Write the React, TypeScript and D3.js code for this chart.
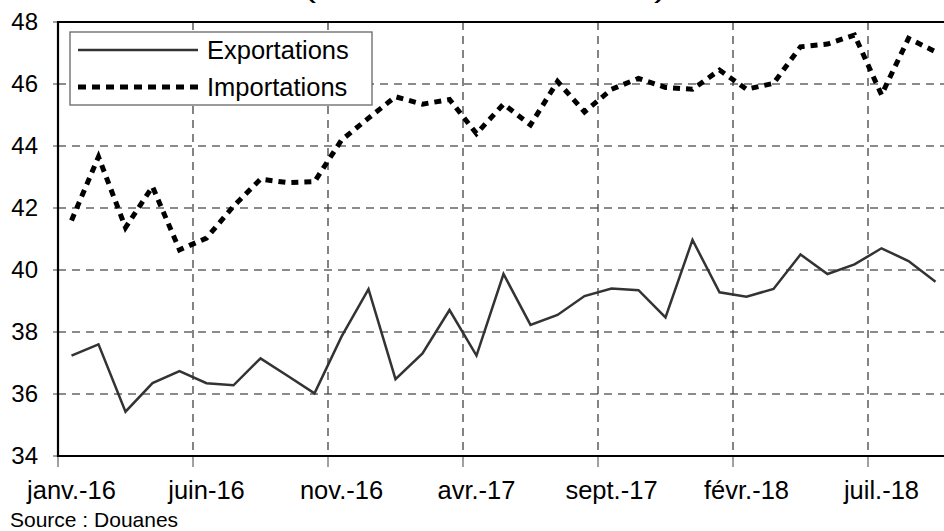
import * as d3 from 'd3';
import React, { useEffect, useRef } from 'react';

// mois de janv.-16 a sept.-18
const moisNoms = ['janv.', 'févr.', 'mars', 'avr.', 'mai', 'juin', 'juil.', 'août', 'sept.', 'oct.', 'nov.', 'déc.'];
const mois: string[] = [];
for (let a = 16; a <= 18; a++) {
    for (let m = 0; m < 12; m++) {
        if (a === 18 && m > 8) break;
        mois.push(moisNoms[m] + '-' + a);
    }
}

const exportations = [
    37.24, 37.6, 35.43, 36.35, 36.74, 36.35, 36.28, 37.15, 36.59, 36.02,
    37.85, 39.38, 36.48, 37.31, 38.71, 37.24, 39.87, 38.23, 38.55, 39.16,
    39.4, 39.35, 38.47, 40.97, 39.28, 39.14, 39.39, 40.5, 39.87, 40.18,
    40.7, 40.29, 39.62
];

const importations = [
    41.6, 43.65, 41.37, 42.69, 40.65, 41.03, 42.06, 42.93, 42.82, 42.85,
    44.19, 44.9, 45.59, 45.35, 45.5, 44.4, 45.35, 44.68, 46.08, 45.1,
    45.83, 46.18, 45.89, 45.83, 46.45, 45.83, 46.02, 47.2, 47.29, 47.58,
    45.65, 47.47, 47.04
];

const yTicks = [34, 36, 38, 40, 42, 44, 46, 48];
const xLabels = ['janv.-16', 'juin-16', 'nov.-16', 'avr.-17', 'sept.-17', 'févr.-18', 'juil.-18'];

const titre = "(en milliards d'euros)";
const source = 'Source : Douanes';

function App() {
    const ref = useRef<SVGSVGElement>(null);

    useEffect(() => {
        const svg = d3.select(ref.current);
        svg.selectAll('*').remove();

        const font = 'Arial, "Liberation Sans", sans-serif';
        const left = 58, top = 22, bottom = 456;
        const bw = 27;

        const x = d3.scaleBand<string>()
            .domain(mois)
            .range([left, left + mois.length * bw])
            .paddingInner(0)
            .paddingOuter(0);
        const y = d3.scaleLinear().domain([34, 48]).range([bottom, top]);
        const cx = (d: string) => (x(d) as number) + x.bandwidth() / 2;

        const g = svg.append('g');

        // titre (coupe en haut, seules les parentheses depassent)
        g.append('text')
            .attr('x', 303)
            .attr('y', -3)
            .attr('textLength', 364)
            .attr('lengthAdjust', 'spacingAndGlyphs')
            .style('font-family', font)
            .style('font-size', '28px')
            .text(titre);

        // grille horizontale
        g.selectAll('.hgrid')
            .data(yTicks.filter(t => t !== 34 && t !== 48))
            .enter()
            .append('line')
            .attr('x1', left)
            .attr('x2', 944)
            .attr('y1', d => y(d))
            .attr('y2', d => y(d))
            .attr('stroke', '#666')
            .attr('stroke-width', 1.3)
            .attr('stroke-dasharray', '8,6');

        // grille verticale, aux limites des categories
        g.selectAll('.vgrid')
            .data(xLabels.slice(1))
            .enter()
            .append('line')
            .attr('x1', d => x(d) as number)
            .attr('x2', d => x(d) as number)
            .attr('y1', top)
            .attr('y2', bottom)
            .attr('stroke', '#333')
            .attr('stroke-width', 1.2)
            .attr('stroke-dasharray', '8,6');

        // graduations axe x
        g.selectAll('.xtick')
            .data(xLabels)
            .enter()
            .append('line')
            .attr('x1', d => x(d) as number)
            .attr('x2', d => x(d) as number)
            .attr('y1', bottom)
            .attr('y2', bottom + 11)
            .attr('stroke', '#444')
            .attr('stroke-width', 1);

        // graduations axe y
        g.selectAll('.ytick')
            .data(yTicks)
            .enter()
            .append('line')
            .attr('x1', left - 5)
            .attr('x2', left)
            .attr('y1', d => y(d))
            .attr('y2', d => y(d))
            .attr('stroke', '#444')
            .attr('stroke-width', 1);

        // axes et bord superieur
        g.append('line').attr('x1', left).attr('x2', left).attr('y1', top - 1).attr('y2', bottom + 1)
            .attr('stroke', '#000').attr('stroke-width', 2.2);
        g.append('line').attr('x1', left).attr('x2', 944).attr('y1', bottom).attr('y2', bottom)
            .attr('stroke', '#000').attr('stroke-width', 2.2);
        g.append('line').attr('x1', left).attr('x2', 944).attr('y1', top).attr('y2', top)
            .attr('stroke', '#000').attr('stroke-width', 2.2);

        // libelles
        g.selectAll('.ylab')
            .data(yTicks)
            .enter()
            .append('text')
            .attr('x', 38)
            .attr('y', d => y(d))
            .attr('dy', '0.35em')
            .style('text-anchor', 'end')
            .style('font-family', font)
            .style('font-size', '24px')
            .text(d => d);

        g.selectAll('.xlab')
            .data(xLabels)
            .enter()
            .append('text')
            .attr('x', d => cx(d))
            .attr('y', 499)
            .style('text-anchor', 'middle')
            .style('font-family', font)
            .style('font-size', '25.5px')
            .text(d => d);

        g.append('text')
            .attr('x', 10)
            .attr('y', 527)
            .style('font-family', font)
            .style('font-size', '21px')
            .text(source);

        // courbes
        const ligne = d3.line<number>()
            .x((d, i) => cx(mois[i]))
            .y(d => y(d));

        g.append('path')
            .datum(exportations)
            .attr('d', ligne)
            .attr('fill', 'none')
            .attr('stroke', '#333')
            .attr('stroke-width', 2.5);

        g.append('path')
            .datum(importations)
            .attr('d', ligne)
            .attr('fill', 'none')
            .attr('stroke', '#000')
            .attr('stroke-width', 5)
            .attr('stroke-dasharray', '7,6');

        // legende
        const leg = g.append('g');
        leg.append('rect')
            .attr('x', 70)
            .attr('y', 32)
            .attr('width', 302)
            .attr('height', 73)
            .attr('fill', '#fff')
            .attr('stroke', '#666')
            .attr('stroke-width', 1.3);
        const items = [
            { nom: 'Exportations', w: 2.5, c: '#333', dash: null as string | null, yy: 50 },
            { nom: 'Importations', w: 5, c: '#000', dash: '8,6', yy: 87 },
        ];
        items.forEach(it => {
            leg.append('line')
                .attr('x1', 78).attr('x2', 198)
                .attr('y1', it.yy).attr('y2', it.yy)
                .attr('stroke', it.c)
                .attr('stroke-width', it.w)
                .attr('stroke-dasharray', it.dash);
            leg.append('text')
                .attr('x', 207)
                .attr('y', it.yy)
                .attr('dy', '0.35em')
                .style('font-family', font)
                .style('font-size', '25.5px')
                .text(it.nom);
        });
    }, []);

    return (
        <svg ref={ref} width={944} height={531}
            style={{ position: 'absolute', left: 0, top: 0, background: '#fff' }}></svg>
    );
}

export default App;
